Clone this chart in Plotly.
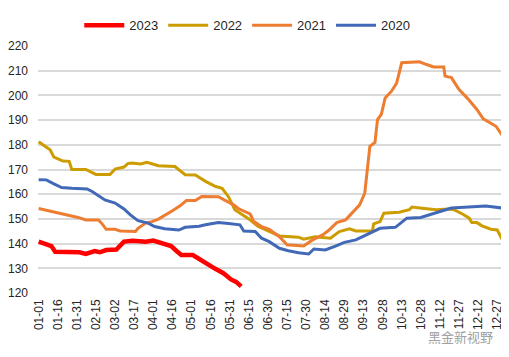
import plotly.graph_objects as go

YEAR = "2021"  # non-leap reference year used only to place month-day on a common axis

d2023 = ["01-01","01-08","01-11","01-14","01-23","02-02","02-07","02-14","02-18","02-23","03-03","03-09",
         "03-16","03-26","04-01","04-09","04-15","04-19","04-23","05-02","05-08","05-14","05-19","05-26",
         "06-01","06-05","06-09"]
v2023 = [140.8,139.7,139.0,136.7,136.6,136.5,135.8,137.0,136.5,137.4,137.6,140.8,
         141.2,140.8,141.2,140.1,139.0,137.1,135.4,135.4,133.4,131.3,130.0,128.0,
         125.5,124.5,122.7]

d2022 = ["01-01","01-10","01-13","01-20","01-25","01-27","02-07","02-15","02-26","03-02","03-09","03-12",
         "03-15","03-22","03-27","04-05","04-18","04-26","05-04","05-12","05-20","05-25","05-30","06-04",
         "06-12","06-15","06-22","07-01","07-09","07-24","07-28","08-06","08-18","08-25","09-02","09-07",
         "09-20","09-21","09-26","09-29","10-11","10-19","10-21","10-29","11-09","11-19","11-23","11-30",
         "12-05","12-07","12-11","12-15","12-22","12-27","12-31"]
v2022 = [181.2,178.0,175.0,173.4,173.3,170.0,170.0,168.0,168.0,170.2,171.0,172.4,
         172.6,172.2,172.9,171.5,171.2,167.9,167.8,165.2,163.1,162.4,159.0,153.7,
         151.0,150.0,147.0,144.9,143.1,142.6,141.8,142.8,142.2,144.9,146.0,145.1,
         145.1,148.0,148.9,152.3,152.7,153.7,154.8,154.3,153.7,154.0,153.7,151.9,
         150.3,148.5,148.5,147.2,145.8,145.5,141.5]

d2021 = ["01-01","01-12","01-17","01-26","02-01","02-07","02-17","02-20","02-23","03-02","03-06","03-18",
         "03-20","03-26","03-31","04-05","04-10","04-16","04-22","04-27","05-04","05-09","05-22","05-27",
         "06-03","06-07","06-12","06-16","06-19","06-25","07-01","07-09","07-15","07-28","08-04","08-12",
         "08-17","08-23","08-30","09-06","09-10","09-14","09-16","09-18","09-22","09-24","09-27","09-30",
         "10-05","10-09","10-13","10-22","10-27","11-01","11-07","11-15","11-16","11-21","11-27","12-04",
         "12-11","12-16","12-21","12-26","12-31"]
v2021 = [154.2,153.0,152.4,151.4,150.6,149.6,149.6,147.9,145.8,145.8,145.1,144.9,
         146.2,148.3,148.9,149.9,151.6,153.3,155.3,157.4,157.4,159.1,159.0,157.7,
         155.7,154.1,153.0,152.0,148.9,146.9,145.8,142.8,139.5,139.0,141.5,143.5,
         145.5,148.5,149.6,153.7,155.7,160.5,169.9,179.4,181.0,190.2,192.3,199.0,
         201.7,205.0,213.2,213.6,213.6,212.6,211.5,211.5,207.8,207.2,202.4,198.6,
         194.3,190.5,188.9,187.5,183.7]

d2020 = ["01-01","01-07","01-13","01-19","01-27","02-08","02-12","02-17","02-22","03-02","03-09","03-14",
         "03-20","03-28","04-02","04-10","04-21","04-26","05-07","05-12","05-22","05-30","06-08","06-11",
         "06-16","06-20","06-25","07-01","07-09","07-16","07-24","08-01","08-05","08-14","08-22","08-29",
         "09-07","09-12","09-21","09-26","10-08","10-12","10-17","10-28","11-05","11-14","11-21","12-05",
         "12-18","12-31"]
v2020 = [165.9,165.8,164.2,162.7,162.4,162.1,161.1,159.5,157.7,156.4,154.0,151.6,
         149.3,148.3,146.9,146.0,145.5,146.6,147.0,147.6,148.5,148.1,147.6,145.1,
         145.1,144.9,142.2,140.8,138.1,137.1,136.3,135.8,137.8,137.4,139.0,140.5,
         141.5,142.8,144.9,146.2,146.6,148.3,150.3,150.6,152.0,153.3,154.4,154.8,
         155.2,154.4]

tick_labels = ["01-01","01-16","01-31","02-15","03-02","03-17","04-01","04-16","05-01","05-16","05-31",
               "06-15","06-30","07-15","07-30","08-14","08-29","09-13","09-28","10-13","10-28","11-12",
               "11-27","12-12","12-27"]
y_ticks = [120,130,140,150,160,170,180,190,200,210,220]

def to_dates(md):
    return [f"{YEAR}-{s}" for s in md]

series = [
    ("2023", d2023, v2023, "#FF0000", 4.5),
    ("2022", d2022, v2022, "#CC9C00", 3),
    ("2021", d2021, v2021, "#ED7D31", 3),
    ("2020", d2020, v2020, "#4169B8", 3),
]

fig = go.Figure()
for name, d, v, c, w in series:
    fig.add_trace(go.Scatter(x=to_dates(d), y=v, mode="lines", name=name,
                             line=dict(color=c, width=w)))

fig.update_layout(
    width=501, height=349,
    margin=dict(l=30, r=6, t=38, b=64, autoexpand=False),
    paper_bgcolor="white", plot_bgcolor="white",
    font=dict(family="Liberation Sans, Arial, sans-serif", size=12, color="#262626"),
    showlegend=True,
    legend=dict(orientation="h", x=0.45, xanchor="center", y=1.145, yanchor="top",
                font=dict(size=13, color="#262626"), itemwidth=40, traceorder="normal"),
    xaxis=dict(
        range=[f"{int(YEAR)-1}-12-31 12:00", f"{YEAR}-12-31 12:00"],
        tickvals=to_dates(tick_labels), ticktext=tick_labels,
        tickangle=-90, showgrid=False, zeroline=False, showline=False,
        ticks="", tickfont=dict(size=12), automargin=False, ticklabelstandoff=3,
    ),
    yaxis=dict(
        range=[120, 220], tickvals=y_ticks, showgrid=True, gridcolor="#D9D9D9", gridwidth=1.5,
        zeroline=False, showline=False, ticks="", tickfont=dict(size=12), automargin=False,
        ticklabelstandoff=9,
    ),
)

fig.add_annotation(text="黑金新视野", xref="paper", yref="paper", x=0.983, y=-0.178,
                   xanchor="right", yanchor="middle", showarrow=False,
                   font=dict(family="Noto Sans CJK SC", size=13, color="#A0A0A0"))

fig.write_html("out.html")
